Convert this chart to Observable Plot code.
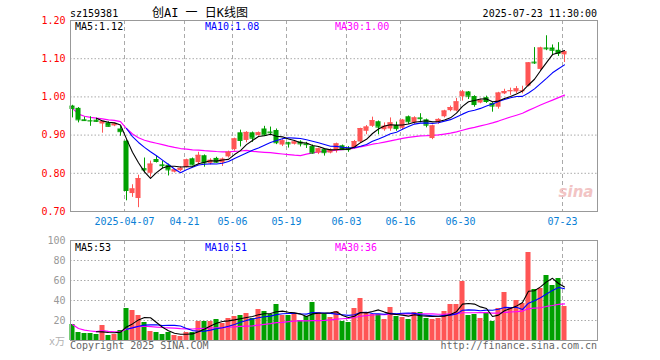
<!DOCTYPE html>
<html><head><meta charset="utf-8">
<script src="https://cdn.jsdelivr.net/npm/d3@7"></script>
<script src="https://cdn.jsdelivr.net/npm/@observablehq/plot@0.6"></script>
<style>
html,body{margin:0;padding:0;background:#fff;}
#wrap{position:relative;width:660px;height:360px;overflow:hidden;}
#wrap > svg{position:absolute;left:0;}
</style></head><body><div id="wrap"></div>
<script>
const dates = ["03-24","03-25","03-26","03-27","03-28","03-31","04-01","04-02","04-03",
"04-07","04-08","04-09","04-10","04-11","04-14","04-15","04-16","04-17","04-18",
"04-21","04-22","04-23","04-24","04-25","04-28","04-29","04-30",
"05-06","05-07","05-08","05-09","05-12","05-13","05-14","05-15","05-16",
"05-19","05-20","05-21","05-22","05-23","05-26","05-27","05-28","05-29","05-30",
"06-03","06-04","06-05","06-06","06-09","06-10","06-11","06-12","06-13",
"06-16","06-17","06-18","06-19","06-20","06-23","06-24","06-25","06-26","06-27",
"06-30","07-01","07-02","07-03","07-04","07-07","07-08","07-09","07-10","07-11",
"07-14","07-15","07-16","07-17","07-18","07-21","07-22","07-23"];
const open = [0.976,0.970,0.940,0.938,0.939,0.929,0.932,0.924,0.916,
0.884,0.747,0.734,0.812,0.800,0.836,0.822,0.821,0.803,0.807,
0.815,0.838,0.828,0.846,0.826,0.839,0.827,0.843,
0.862,0.906,0.886,0.906,0.899,0.916,0.908,0.912,0.874,
0.880,0.876,0.882,0.877,0.870,0.853,0.862,0.853,0.859,0.872,
0.864,0.867,0.882,0.910,0.923,0.935,0.914,0.916,0.925,
0.918,0.948,0.932,0.945,0.940,0.891,0.932,0.948,0.964,0.963,
1.000,1.013,1.001,0.984,0.998,0.983,0.973,1.008,1.014,1.013,
1.015,1.028,1.091,1.072,1.128,1.128,1.122,1.110];
const high = [0.978,0.972,0.947,0.948,0.944,0.936,0.935,0.931,0.923,
0.887,0.770,0.795,0.840,0.832,0.845,0.832,0.824,0.811,0.817,
0.837,0.840,0.855,0.848,0.838,0.842,0.840,0.858,
0.892,0.913,0.909,0.908,0.908,0.923,0.921,0.916,0.888,
0.881,0.886,0.885,0.881,0.874,0.866,0.864,0.864,0.879,0.874,
0.870,0.886,0.918,0.925,0.947,0.937,0.932,0.945,0.934,
0.941,0.950,0.948,0.956,0.942,0.926,0.943,0.965,0.976,0.996,
1.017,1.014,1.003,0.994,1.002,0.985,1.012,1.020,1.023,1.027,
1.028,1.090,1.129,1.130,1.160,1.136,1.142,1.120];
const low = [0.945,0.932,0.936,0.923,0.933,0.905,0.921,0.922,0.897,
0.728,0.737,0.710,0.801,0.790,0.827,0.812,0.793,0.801,0.804,
0.814,0.820,0.822,0.816,0.822,0.826,0.818,0.840,
0.858,0.869,0.880,0.881,0.897,0.897,0.899,0.875,0.870,
0.866,0.874,0.869,0.865,0.850,0.849,0.845,0.851,0.853,0.860,
0.855,0.864,0.880,0.901,0.920,0.901,0.910,0.910,0.910,
0.913,0.928,0.928,0.932,0.919,0.888,0.928,0.945,0.961,0.961,
0.989,0.993,0.973,0.982,0.983,0.960,0.968,1.006,1.004,1.008,
1.008,1.026,1.085,1.070,1.121,1.108,1.106,1.090];
const close = [0.970,0.940,0.938,0.937,0.936,0.935,0.923,0.929,0.909,
0.755,0.759,0.786,0.809,0.824,0.831,0.820,0.809,0.809,0.813,
0.835,0.822,0.847,0.827,0.834,0.829,0.837,0.855,
0.890,0.886,0.907,0.892,0.906,0.900,0.906,0.880,0.885,
0.877,0.882,0.877,0.875,0.853,0.864,0.854,0.861,0.877,0.862,
0.862,0.883,0.917,0.921,0.938,0.921,0.923,0.932,0.917,
0.939,0.935,0.945,0.943,0.926,0.924,0.941,0.963,0.972,0.987,
1.013,1.002,0.980,0.991,0.988,0.976,1.010,1.014,1.016,1.021,
1.016,1.089,1.089,1.128,1.126,1.122,1.114,1.118];
const volume = [16,8,7,7,6,15,5,6,10,
32,30,25,18,9,8,6,8,5,4,
8,8,19,19,19,21,17,22,
24,25,27,22,31,29,26,36,25,
25,26,20,24,38,28,26,23,29,19,
18,32,42,27,26,26,21,33,24,
23,21,28,28,22,21,22,29,36,36,
59,25,26,22,28,19,32,48,33,40,
37,88,51,52,65,55,62,34];
const tickDates = ["04-07","04-21","05-06","05-19","06-03","06-16","06-30","07-23"];
const tickLabels = ["2025-04-07","04-21","05-06","05-19","06-03","06-16","06-30","07-23"];
const priceTicks = [0.70,0.80,0.90,1.00,1.10,1.20];
const priceGrid = [0.80,0.90,1.00,1.10];
const volTicks = [20,40,60,80,100];
const volGrid = [20,40,60,80];

const RED = "#ff5555", GREEN = "#00a000", MA5C = "#000000", MA10C = "#0000ff", MA30C = "#ff00ff";
const GRID = "#aaaaaa", FRAME = "#999999";
const FONT = '"DejaVu Sans Mono", "Liberation Mono", monospace';

function movingAvg(arr, n, partial) {
  return arr.map((_, i) => {
    if (i < n - 1 && !partial) return NaN;
    return d3.mean(arr.slice(Math.max(0, i - n + 1), i + 1));
  });
}
const rows = dates.map((d, i) => ({
  i, date: d, o: open[i], h: high[i], l: low[i], c: close[i], v: volume[i],
  col: close[i] >= open[i] ? RED : GREEN
}));
const pm5 = movingAvg(close, 5), pm10 = movingAvg(close, 10), pm30 = movingAvg(close, 30, true);
const vm5 = movingAvg(volume, 5), vm10 = movingAvg(volume, 10), vm30 = movingAvg(volume, 30, true);
const tickIdx = tickDates.map(t => dates.indexOf(t));
const labelOf = new Map(tickIdx.map((k, j) => [k, tickLabels[j]]));
const HALF = 0.42;
const xScale = {type: "linear", domain: [-1/3, 87.5], axis: null};
const common = {width: 660, marginLeft: 70, marginRight: 63,
  style: {fontFamily: FONT, fontSize: "10px", background: "transparent"}};

const main = Plot.plot({
  ...common, height: 232, marginTop: 20, marginBottom: 21,
  x: xScale, y: {domain: [0.70, 1.20], axis: null}, color: {type: "identity"},
  marks: [
    Plot.ruleY(priceGrid, {stroke: GRID, strokeDasharray: "1.5,2"}),
    Plot.ruleX(tickIdx, {dx: -2, stroke: GRID, strokeDasharray: "4,3"}),
    Plot.line(rows, {x: "i", y: d => pm30[d.i], stroke: MA30C, strokeWidth: 1.2}),
    Plot.ruleX(rows, {x: "i", y1: "l", y2: "h", stroke: "col"}),
    Plot.rect(rows, {x1: d => d.i - HALF, x2: d => d.i + HALF, y1: "o", y2: "c", fill: "col"}),
    Plot.ruleY(rows, {x1: d => d.i - HALF, x2: d => d.i + HALF, y: "c", stroke: "col"}),
    Plot.line(rows, {x: "i", y: d => pm10[d.i], stroke: MA10C, strokeWidth: 1.1}),
    Plot.line(rows, {x: "i", y: d => pm5[d.i], stroke: MA5C, strokeWidth: 1.1}),
    Plot.frame({stroke: FRAME}),
    Plot.axisY(priceTicks, {tickSize: 0, tickPadding: 5, fill: "#ff0000", label: null, tickFormat: d => d.toFixed(2)}),
    Plot.axisX(tickIdx, {tickSize: 0, tickPadding: 6, dx: -2, fill: "#0a7fd6", label: null, tickFormat: d => labelOf.get(d)})
  ]
});
main.style.top = "0px";

const vol = Plot.plot({
  ...common, height: 128, marginTop: 8, marginBottom: 20,
  x: xScale, y: {domain: [0, 100], axis: null}, color: {type: "identity"},
  marks: [
    Plot.ruleY(volGrid, {stroke: GRID, strokeDasharray: "1.5,2"}),
    Plot.ruleX(tickIdx, {dx: -2, stroke: GRID, strokeDasharray: "4,3"}),
    Plot.rect(rows, {x1: d => d.i - HALF, x2: d => d.i + HALF, y1: d => 0, y2: "v", fill: "col"}),
    Plot.line(rows, {x: "i", y: d => vm30[d.i], stroke: MA30C, strokeWidth: 1.2}),
    Plot.line(rows, {x: "i", y: d => vm10[d.i], stroke: MA10C, strokeWidth: 1.1}),
    Plot.line(rows, {x: "i", y: d => vm5[d.i], stroke: MA5C, strokeWidth: 1.1}),
    Plot.frame({stroke: FRAME}),
    Plot.axisY(volTicks, {tickSize: 0, tickPadding: 5, fill: "#999999", label: null, tickFormat: d => String(d)})
  ]
});
vol.style.top = "232px";

const wrap = document.getElementById("wrap");
wrap.appendChild(main);
wrap.appendChild(vol);

// overlay texts
const last = close.length - 1;
const ov = d3.create("svg").attr("width", 660).attr("height", 360)
  .style("top", "0px").style("pointer-events", "none")
  .style("font-family", FONT).style("font-size", "10px");
function txt(x, y, s, fill, anchor, extra) {
  const t = ov.append("text").attr("x", x).attr("y", y).attr("fill", fill)
    .attr("text-anchor", anchor || "start").text(s);
  if (extra) extra(t);
  return t;
}
txt(70, 16.5, "sz159381", "#000");
txt(200, 17, "创AI 一 日K线图", "#000", "middle", t => t.style("font-size", "12px")
  .style("font-family", '"DejaVu Sans Mono", "Noto Sans CJK SC", monospace'));
txt(597, 16.5, "2025-07-23 11:30:00", "#000", "end");
txt(75, 29.5, "MA5:" + pm5[last].toFixed(2), MA5C);
txt(205, 29.5, "MA10:" + pm10[last].toFixed(2), MA10C);
txt(335, 29.5, "MA30:" + pm30[last].toFixed(2), MA30C);
txt(75, 250.5, "MA5:" + Math.floor(vm5[last]), MA5C);
txt(205, 250.5, "MA10:" + Math.floor(vm10[last]), MA10C);
txt(335, 250.5, "MA30:" + Math.floor(vm30[last]), MA30C);
txt(65, 345, "x万", "#b0b0b0", "end", t => t.style("font-family", '"DejaVu Sans Mono", "Noto Sans CJK SC", monospace'));
txt(70, 349, "Copyright 2025 SINA.COM", "#666", "start");
txt(597, 349, "http://finance.sina.com.cn", "#666", "end");
txt(576, 197, "sina", "#f2c4c4", "middle", t => t.style("font-size", "15px").style("font-style", "italic")
  .style("font-weight", "bold").style("font-family", '"DejaVu Sans", sans-serif'));
wrap.appendChild(ov.node());
</script></body></html>
